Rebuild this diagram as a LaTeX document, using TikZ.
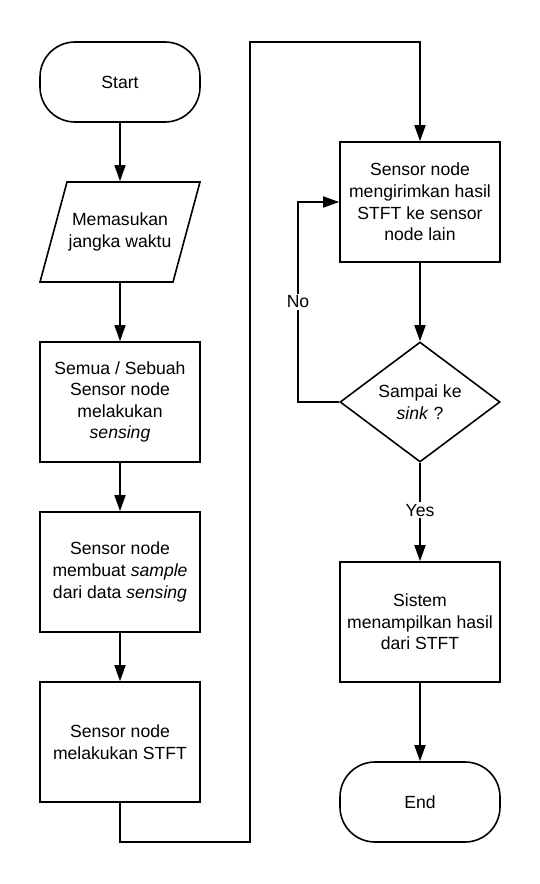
\documentclass[tikz,border=0pt]{standalone}
\usepackage{fontspec}
\setmainfont{Liberation Sans}
\usetikzlibrary{arrows.meta,shapes.geometric}
\begin{document}
\begin{tikzpicture}[x=1pt,y=-1pt,
  base/.style={line width=1.6pt, font=\fontsize{17.6}{21.6}\selectfont, align=center, inner sep=0pt},
  term/.style={base, draw, rounded corners=35pt, minimum width=160pt, minimum height=80pt},
  procbox/.style={base, draw, minimum width=160pt, minimum height=120pt},
  iobox/.style={base, minimum width=133pt, minimum height=100pt},
  decbox/.style={base, draw, diamond, aspect=1.333, minimum width=160pt, minimum height=120pt},
  conn/.style={line width=1.6pt, line join=miter, -{Triangle[length=16pt,width=11pt]}},
  lbl/.style={fill=white, inner sep=2pt, font=\fontsize{17.6}{21.6}\selectfont}
]
\useasboundingbox (0,0) rectangle (540,884);
\fill[white] (0,0) rectangle (540,884);

\node[term] (start) at (120,82) {Start};
\node[iobox] (in) at (120,232) {Memasukan\\jangka waktu};
\draw[line width=1.6pt, line join=miter] (67,182) -- (200,182) -- (173,282) -- (40,282) -- cycle;
\node[procbox] (b1) at (120,402) {Semua / Sebuah\\Sensor node\\melakukan\\\textit{sensing}};
\node[procbox] (b2) at (120,572) {Sensor node\\membuat \textit{sample}\\dari data \textit{sensing}};
\node[procbox] (b3) at (120,742) {Sensor node\\melakukan STFT};
\node[procbox] (b4) at (420,202) {Sensor node\\mengirimkan hasil\\STFT ke sensor\\node lain};
\node[decbox] (dec) at (420,402) {Sampai ke\\\textit{sink} ?};
\node[procbox] (b5) at (420,622) {Sistem\\menampilkan hasil\\dari STFT};
\node[term] (end) at (420,802) {End};

\coordinate (c1) at (250,842);
\coordinate (c2) at (250,42);
\coordinate (c3) at (298,402);

\draw[conn] (start) -- (in);
\draw[conn] (in) -- (b1);
\draw[conn] (b1) -- (b2);
\draw[conn] (b2) -- (b3);
\draw[conn] (b3.south) |- (c1) -- (c2) -| (b4.north);
\draw[conn] (b4) -- (dec);
\draw[conn] (dec.west) -- (c3) -- node[lbl]{No} (c3 |- b4.west) -- (b4.west);
\draw[conn] (dec.south) -- node[lbl, pos=0.48]{Yes} (b5.north);
\draw[conn] (b5) -- (end);
\end{tikzpicture}
\end{document}
